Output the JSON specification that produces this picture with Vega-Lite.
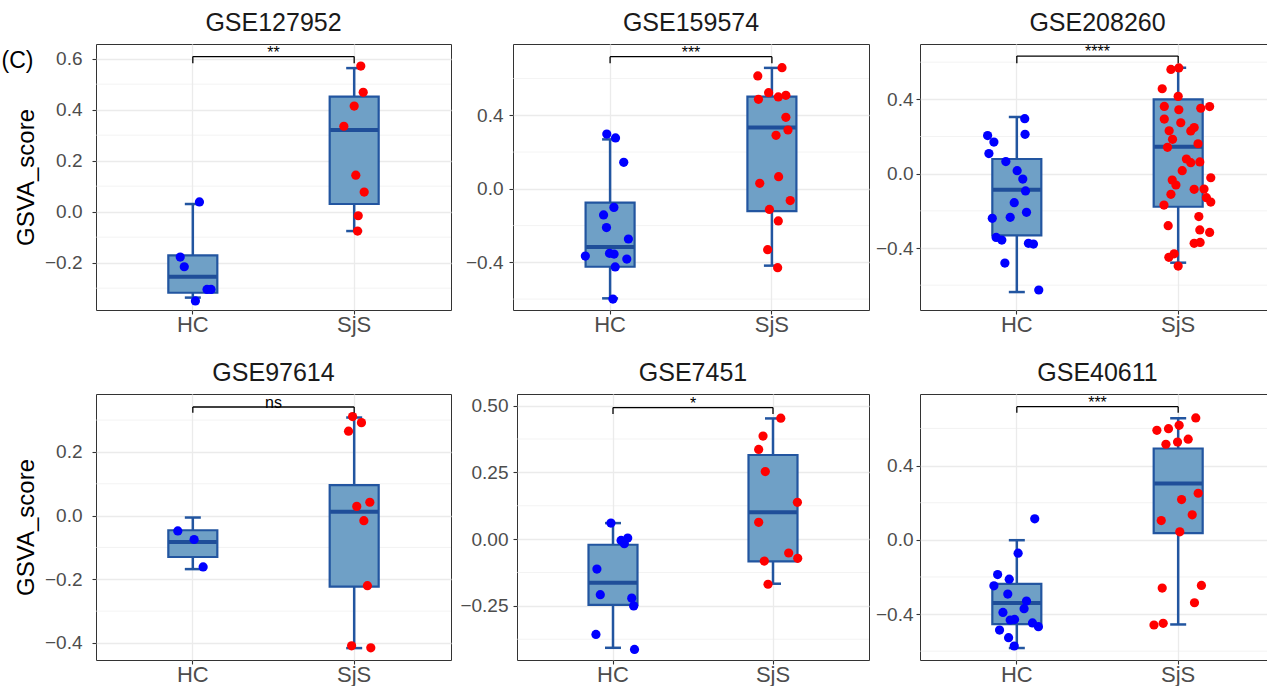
{
"$schema": "https://vega.github.io/schema/vega-lite/v6.json",
"background": "white",
"padding": {"left": 1, "top": 10, "right": 0, "bottom": 0},
"title": {"text": "(C)", "anchor": "start", "frame": "bounds", "fontSize": 23, "fontWeight": "normal", "color": "#000000", "dx": -12, "dy": 62, "offset": 0},
"config": {
 "font": "Liberation Sans",
 "view": {"stroke": "#333333", "strokeWidth": 1},
 "title": {"fontSize": 25, "fontWeight": "normal", "color": "#1a1a1a", "offset": 8},
 "axis": {"labelFontSize": 19, "labelColor": "#4d4d4d", "tickColor": "#333333", "tickSize": 4, "tickWidth": 1.1, "domain": false, "gridColor": "#ebebeb", "gridWidth": 1.3, "titleFontSize": 24, "titleFontWeight": "normal", "titleColor": "#000000", "labelFlush": false, "labelOverlap": false},
 "axisX": {"labelFontSize": 22, "labelPadding": 0, "labelAngle": 0},
 "axisY": {"labelPadding": 10, "titlePadding": 5},
 "tick": {"opacity": 1},
 "bar": {"opacity": 1}
},
"datasets": {
 "grid": [
  {"panel":"GSE127952","value":-0.3},{"panel":"GSE127952","value":-0.1},{"panel":"GSE127952","value":0.1},{"panel":"GSE127952","value":0.3},{"panel":"GSE127952","value":0.5},
  {"panel":"GSE159574","value":-0.6},{"panel":"GSE159574","value":-0.2},{"panel":"GSE159574","value":0.2},{"panel":"GSE159574","value":0.6},
  {"panel":"GSE208260","value":-0.6},{"panel":"GSE208260","value":-0.2},{"panel":"GSE208260","value":0.2},{"panel":"GSE208260","value":0.6},
  {"panel":"GSE97614","value":-0.3},{"panel":"GSE97614","value":-0.1},{"panel":"GSE97614","value":0.1},{"panel":"GSE97614","value":0.3},
  {"panel":"GSE7451","value":-0.375},{"panel":"GSE7451","value":-0.125},{"panel":"GSE7451","value":0.125},{"panel":"GSE7451","value":0.375},
  {"panel":"GSE40611","value":-0.6},{"panel":"GSE40611","value":-0.2},{"panel":"GSE40611","value":0.2},{"panel":"GSE40611","value":0.6}
 ],
 "box": [
  {"panel":"GSE127952","group":"HC","lower":-0.337,"q1":-0.318,"median":-0.255,"q3":-0.171,"upper":0.030},
  {"panel":"GSE127952","group":"SjS","lower":-0.076,"q1":0.030,"median":0.320,"q3":0.451,"upper":0.563},
  {"panel":"GSE159574","group":"HC","lower":-0.596,"q1":-0.424,"median":-0.317,"q3":-0.075,"upper":0.269},
  {"panel":"GSE159574","group":"SjS","lower":-0.418,"q1":-0.121,"median":0.333,"q3":0.502,"upper":0.658},
  {"panel":"GSE208260","group":"HC","lower":-0.637,"q1":-0.332,"median":-0.086,"q3":0.079,"upper":0.305},
  {"panel":"GSE208260","group":"SjS","lower":-0.479,"q1":-0.178,"median":0.145,"q3":0.400,"upper":0.570},
  {"panel":"GSE97614","group":"HC","lower":-0.168,"q1":-0.130,"median":-0.083,"q3":-0.046,"upper":-0.006},
  {"panel":"GSE97614","group":"SjS","lower":-0.416,"q1":-0.223,"median":0.012,"q3":0.096,"upper":0.308},
  {"panel":"GSE7451","group":"HC","lower":-0.407,"q1":-0.246,"median":-0.163,"q3":-0.021,"upper":0.060},
  {"panel":"GSE7451","group":"SjS","lower":-0.167,"q1":-0.083,"median":0.101,"q3":0.315,"upper":0.452},
  {"panel":"GSE40611","group":"HC","lower":-0.583,"q1":-0.454,"median":-0.341,"q3":-0.237,"upper":-0.002},
  {"panel":"GSE40611","group":"SjS","lower":-0.456,"q1":0.036,"median":0.303,"q3":0.492,"upper":0.655}
 ],
 "br": [
  {"panel":"GSE127952","group":"HC","y":0.608,"tip":0.582,"label":"**"},{"panel":"GSE127952","group":"SjS","y":0.608,"tip":0.582,"label":"**"},
  {"panel":"GSE159574","group":"HC","y":0.719,"tip":0.683,"label":"***"},{"panel":"GSE159574","group":"SjS","y":0.719,"tip":0.683,"label":"***"},
  {"panel":"GSE208260","group":"HC","y":0.633,"tip":0.594,"label":"****"},{"panel":"GSE208260","group":"SjS","y":0.633,"tip":0.594,"label":"****"},
  {"panel":"GSE97614","group":"HC","y":0.341,"tip":0.323,"label":"ns"},{"panel":"GSE97614","group":"SjS","y":0.341,"tip":0.323,"label":"ns"},
  {"panel":"GSE7451","group":"HC","y":0.4925,"tip":0.469,"label":"*"},{"panel":"GSE7451","group":"SjS","y":0.4925,"tip":0.469,"label":"*"},
  {"panel":"GSE40611","group":"HC","y":0.7175,"tip":0.685,"label":"***"},{"panel":"GSE40611","group":"SjS","y":0.7175,"tip":0.685,"label":"***"}
 ],
 "pts": [
  {"panel":"GSE127952","group":"HC","score":0.038,"jitter":0.041},{"panel":"GSE127952","group":"HC","score":-0.178,"jitter":-0.078},{"panel":"GSE127952","group":"HC","score":-0.216,"jitter":-0.053},{"panel":"GSE127952","group":"HC","score":-0.305,"jitter":0.088},{"panel":"GSE127952","group":"HC","score":-0.305,"jitter":0.113},{"panel":"GSE127952","group":"HC","score":-0.350,"jitter":0.016},
  {"panel":"GSE127952","group":"SjS","score":0.571,"jitter":0.041},{"panel":"GSE127952","group":"SjS","score":0.468,"jitter":0.056},{"panel":"GSE127952","group":"SjS","score":0.414,"jitter":0.0},{"panel":"GSE127952","group":"SjS","score":0.335,"jitter":-0.064},{"panel":"GSE127952","group":"SjS","score":0.143,"jitter":0.010},{"panel":"GSE127952","group":"SjS","score":0.077,"jitter":0.062},{"panel":"GSE127952","group":"SjS","score":-0.016,"jitter":0.025},{"panel":"GSE127952","group":"SjS","score":-0.076,"jitter":0.021},

  {"panel":"GSE159574","group":"HC","score":0.298,"jitter":-0.019},{"panel":"GSE159574","group":"HC","score":0.277,"jitter":0.035},{"panel":"GSE159574","group":"HC","score":0.144,"jitter":0.086},{"panel":"GSE159574","group":"HC","score":-0.101,"jitter":0.025},{"panel":"GSE159574","group":"HC","score":-0.142,"jitter":-0.039},{"panel":"GSE159574","group":"HC","score":-0.211,"jitter":-0.021},{"panel":"GSE159574","group":"HC","score":-0.273,"jitter":0.115},{"panel":"GSE159574","group":"HC","score":-0.366,"jitter":-0.152},{"panel":"GSE159574","group":"HC","score":-0.351,"jitter":-0.002},{"panel":"GSE159574","group":"HC","score":-0.355,"jitter":0.026},{"panel":"GSE159574","group":"HC","score":-0.382,"jitter":0.105},{"panel":"GSE159574","group":"HC","score":-0.425,"jitter":0.033},{"panel":"GSE159574","group":"HC","score":-0.600,"jitter":0.019},
  {"panel":"GSE159574","group":"SjS","score":0.659,"jitter":0.064},{"panel":"GSE159574","group":"SjS","score":0.614,"jitter":-0.086},{"panel":"GSE159574","group":"SjS","score":0.523,"jitter":-0.019},{"panel":"GSE159574","group":"SjS","score":0.487,"jitter":-0.082},{"panel":"GSE159574","group":"SjS","score":0.500,"jitter":0.041},{"panel":"GSE159574","group":"SjS","score":0.509,"jitter":0.088},{"panel":"GSE159574","group":"SjS","score":0.389,"jitter":0.088},{"panel":"GSE159574","group":"SjS","score":0.320,"jitter":0.101},{"panel":"GSE159574","group":"SjS","score":0.291,"jitter":0.027},{"panel":"GSE159574","group":"SjS","score":0.066,"jitter":0.043},{"panel":"GSE159574","group":"SjS","score":0.030,"jitter":-0.074},{"panel":"GSE159574","group":"SjS","score":-0.064,"jitter":0.115},{"panel":"GSE159574","group":"SjS","score":-0.112,"jitter":-0.014},{"panel":"GSE159574","group":"SjS","score":-0.175,"jitter":0.041},{"panel":"GSE159574","group":"SjS","score":-0.331,"jitter":-0.025},{"panel":"GSE159574","group":"SjS","score":-0.429,"jitter":0.037},

  {"panel":"GSE208260","group":"HC","score":0.296,"jitter":0.049},{"panel":"GSE208260","group":"HC","score":0.212,"jitter":0.051},{"panel":"GSE208260","group":"HC","score":0.205,"jitter":-0.181},{"panel":"GSE208260","group":"HC","score":0.170,"jitter":-0.142},{"panel":"GSE208260","group":"HC","score":0.108,"jitter":-0.173},{"panel":"GSE208260","group":"HC","score":0.065,"jitter":-0.068},{"panel":"GSE208260","group":"HC","score":0.016,"jitter":0.002},{"panel":"GSE208260","group":"HC","score":-0.029,"jitter":0.037},{"panel":"GSE208260","group":"HC","score":-0.093,"jitter":0.054},{"panel":"GSE208260","group":"HC","score":-0.156,"jitter":-0.016},{"panel":"GSE208260","group":"HC","score":-0.208,"jitter":0.060},{"panel":"GSE208260","group":"HC","score":-0.240,"jitter":-0.152},{"panel":"GSE208260","group":"HC","score":-0.235,"jitter":-0.041},{"panel":"GSE208260","group":"HC","score":-0.343,"jitter":-0.128},{"panel":"GSE208260","group":"HC","score":-0.357,"jitter":-0.093},{"panel":"GSE208260","group":"HC","score":-0.375,"jitter":0.072},{"panel":"GSE208260","group":"HC","score":-0.379,"jitter":0.103},{"panel":"GSE208260","group":"HC","score":-0.481,"jitter":-0.074},{"panel":"GSE208260","group":"HC","score":-0.626,"jitter":0.136},
  {"panel":"GSE208260","group":"SjS","score":0.561,"jitter":-0.045},{"panel":"GSE208260","group":"SjS","score":0.569,"jitter":0.004},{"panel":"GSE208260","group":"SjS","score":0.457,"jitter":-0.099},{"panel":"GSE208260","group":"SjS","score":0.416,"jitter":0.0},{"panel":"GSE208260","group":"SjS","score":0.362,"jitter":-0.086},{"panel":"GSE208260","group":"SjS","score":0.344,"jitter":0.004},{"panel":"GSE208260","group":"SjS","score":0.352,"jitter":0.140},{"panel":"GSE208260","group":"SjS","score":0.361,"jitter":0.195},{"panel":"GSE208260","group":"SjS","score":0.294,"jitter":-0.086},{"panel":"GSE208260","group":"SjS","score":0.274,"jitter":0.016},{"panel":"GSE208260","group":"SjS","score":0.231,"jitter":-0.056},{"panel":"GSE208260","group":"SjS","score":0.248,"jitter":0.099},{"panel":"GSE208260","group":"SjS","score":0.230,"jitter":0.078},{"panel":"GSE208260","group":"SjS","score":0.185,"jitter":-0.035},{"panel":"GSE208260","group":"SjS","score":0.142,"jitter":-0.066},{"panel":"GSE208260","group":"SjS","score":0.161,"jitter":0.123},{"panel":"GSE208260","group":"SjS","score":0.079,"jitter":0.051},{"panel":"GSE208260","group":"SjS","score":0.059,"jitter":0.078},{"panel":"GSE208260","group":"SjS","score":0.063,"jitter":0.134},{"panel":"GSE208260","group":"SjS","score":0.016,"jitter":0.025},{"panel":"GSE208260","group":"SjS","score":-0.022,"jitter":0.202},{"panel":"GSE208260","group":"SjS","score":-0.034,"jitter":-0.037},{"panel":"GSE208260","group":"SjS","score":-0.061,"jitter":-0.014},{"panel":"GSE208260","group":"SjS","score":-0.084,"jitter":0.099},{"panel":"GSE208260","group":"SjS","score":-0.083,"jitter":0.160},{"panel":"GSE208260","group":"SjS","score":-0.111,"jitter":-0.045},{"panel":"GSE208260","group":"SjS","score":-0.129,"jitter":0.175},{"panel":"GSE208260","group":"SjS","score":-0.153,"jitter":0.202},{"panel":"GSE208260","group":"SjS","score":-0.169,"jitter":-0.088},{"panel":"GSE208260","group":"SjS","score":-0.231,"jitter":0.128},{"panel":"GSE208260","group":"SjS","score":-0.280,"jitter":-0.062},{"panel":"GSE208260","group":"SjS","score":-0.303,"jitter":0.134},{"panel":"GSE208260","group":"SjS","score":-0.316,"jitter":0.195},{"panel":"GSE208260","group":"SjS","score":-0.375,"jitter":0.099},{"panel":"GSE208260","group":"SjS","score":-0.370,"jitter":0.136},{"panel":"GSE208260","group":"SjS","score":-0.431,"jitter":-0.025},{"panel":"GSE208260","group":"SjS","score":-0.450,"jitter":-0.058},{"panel":"GSE208260","group":"SjS","score":-0.497,"jitter":0.0},

  {"panel":"GSE97614","group":"HC","score":-0.048,"jitter":-0.093},{"panel":"GSE97614","group":"HC","score":-0.075,"jitter":0.008},{"panel":"GSE97614","group":"HC","score":-0.161,"jitter":0.064},
  {"panel":"GSE97614","group":"SjS","score":0.311,"jitter":-0.010},{"panel":"GSE97614","group":"SjS","score":0.292,"jitter":0.045},{"panel":"GSE97614","group":"SjS","score":0.265,"jitter":-0.035},{"panel":"GSE97614","group":"SjS","score":0.029,"jitter":0.016},{"panel":"GSE97614","group":"SjS","score":0.042,"jitter":0.097},{"panel":"GSE97614","group":"SjS","score":-0.016,"jitter":0.060},{"panel":"GSE97614","group":"SjS","score":-0.220,"jitter":0.082},{"panel":"GSE97614","group":"SjS","score":-0.409,"jitter":-0.016},{"panel":"GSE97614","group":"SjS","score":-0.415,"jitter":0.103},

  {"panel":"GSE7451","group":"HC","score":0.060,"jitter":-0.017},{"panel":"GSE7451","group":"HC","score":-0.005,"jitter":0.046},{"panel":"GSE7451","group":"HC","score":0.004,"jitter":0.087},{"panel":"GSE7451","group":"HC","score":-0.017,"jitter":0.066},{"panel":"GSE7451","group":"HC","score":-0.112,"jitter":-0.104},{"panel":"GSE7451","group":"HC","score":-0.208,"jitter":-0.083},{"panel":"GSE7451","group":"HC","score":-0.221,"jitter":0.112},{"panel":"GSE7451","group":"HC","score":-0.250,"jitter":0.124},{"panel":"GSE7451","group":"HC","score":-0.357,"jitter":-0.110},{"panel":"GSE7451","group":"HC","score":-0.413,"jitter":0.129},
  {"panel":"GSE7451","group":"SjS","score":0.453,"jitter":0.044},{"panel":"GSE7451","group":"SjS","score":0.386,"jitter":-0.066},{"panel":"GSE7451","group":"SjS","score":0.336,"jitter":-0.093},{"panel":"GSE7451","group":"SjS","score":0.253,"jitter":-0.052},{"panel":"GSE7451","group":"SjS","score":0.138,"jitter":0.147},{"panel":"GSE7451","group":"SjS","score":0.063,"jitter":-0.093},{"panel":"GSE7451","group":"SjS","score":-0.052,"jitter":0.093},{"panel":"GSE7451","group":"SjS","score":-0.072,"jitter":0.149},{"panel":"GSE7451","group":"SjS","score":-0.082,"jitter":-0.058},{"panel":"GSE7451","group":"SjS","score":-0.169,"jitter":-0.035},

  {"panel":"GSE40611","group":"HC","score":0.113,"jitter":0.111},{"panel":"GSE40611","group":"HC","score":-0.072,"jitter":0.008},{"panel":"GSE40611","group":"HC","score":-0.187,"jitter":-0.119},{"panel":"GSE40611","group":"HC","score":-0.212,"jitter":-0.047},{"panel":"GSE40611","group":"HC","score":-0.248,"jitter":-0.142},{"panel":"GSE40611","group":"HC","score":-0.292,"jitter":-0.056},{"panel":"GSE40611","group":"HC","score":-0.330,"jitter":0.060},{"panel":"GSE40611","group":"HC","score":-0.371,"jitter":0.045},{"panel":"GSE40611","group":"HC","score":-0.391,"jitter":-0.086},{"panel":"GSE40611","group":"HC","score":-0.432,"jitter":-0.041},{"panel":"GSE40611","group":"HC","score":-0.429,"jitter":-0.014},{"panel":"GSE40611","group":"HC","score":-0.448,"jitter":0.097},{"panel":"GSE40611","group":"HC","score":-0.468,"jitter":0.134},{"panel":"GSE40611","group":"HC","score":-0.486,"jitter":-0.107},{"panel":"GSE40611","group":"HC","score":-0.527,"jitter":-0.051},{"panel":"GSE40611","group":"HC","score":-0.572,"jitter":-0.016},
  {"panel":"GSE40611","group":"SjS","score":0.657,"jitter":0.109},{"panel":"GSE40611","group":"SjS","score":0.617,"jitter":0.006},{"panel":"GSE40611","group":"SjS","score":0.599,"jitter":-0.060},{"panel":"GSE40611","group":"SjS","score":0.590,"jitter":-0.132},{"panel":"GSE40611","group":"SjS","score":0.542,"jitter":0.062},{"panel":"GSE40611","group":"SjS","score":0.515,"jitter":-0.076},{"panel":"GSE40611","group":"SjS","score":0.527,"jitter":-0.004},{"panel":"GSE40611","group":"SjS","score":0.251,"jitter":0.124},{"panel":"GSE40611","group":"SjS","score":0.217,"jitter":0.021},{"panel":"GSE40611","group":"SjS","score":0.135,"jitter":0.087},{"panel":"GSE40611","group":"SjS","score":0.104,"jitter":-0.105},{"panel":"GSE40611","group":"SjS","score":0.043,"jitter":0.010},{"panel":"GSE40611","group":"SjS","score":-0.260,"jitter":-0.099},{"panel":"GSE40611","group":"SjS","score":-0.246,"jitter":0.144},{"panel":"GSE40611","group":"SjS","score":-0.339,"jitter":0.101},{"panel":"GSE40611","group":"SjS","score":-0.450,"jitter":-0.093},{"panel":"GSE40611","group":"SjS","score":-0.459,"jitter":-0.150}
 ]
},
"spacing": 24,
"vconcat": [
{"spacing": 0, "hconcat": [
 {"title": "GSE127952", "width": 355, "height": 266, "layer": [
  {"data": {"name": "grid"}, "transform": [{"filter": {"field": "panel", "equal": "GSE127952"}}], "mark": {"type": "rule", "color": "#ebebeb", "strokeWidth": 0.6},
   "encoding": {"y": {"field": "value", "type": "quantitative", "scale": {"domain": [-0.3856, 0.6575]}, "title": "GSVA_score", "axis": {"values": [-0.2, 0, 0.2, 0.4, 0.6], "format": ".1f", "grid": true, "title": "GSVA_score", "labelPadding": 10, "minExtent": 53, "maxExtent": 53}}}},
  {"data": {"name": "box"}, "transform": [{"filter": {"field": "panel", "equal": "GSE127952"}}], "mark": {"type": "rule", "color": "#2255a0", "strokeWidth": 2.5},
   "encoding": {"x": {"field": "group", "type": "nominal", "scale": {"domain": ["HC", "SjS"], "paddingInner": 0, "paddingOuter": 0.1}, "axis": {"title": null, "grid": true, "bandPosition": 0.5}},
    "y": {"field": "lower", "type": "quantitative", "scale": {"domain": [-0.3856, 0.6575]}, "title": "GSVA_score"}, "y2": {"field": "upper"}}},
  {"data": {"name": "box"}, "transform": [{"filter": {"field": "panel", "equal": "GSE127952"}}], "mark": {"type": "tick", "color": "#2255a0", "thickness": 2.5, "size": 16, "orient": "horizontal"},
   "encoding": {"x": {"field": "group", "type": "nominal", "title": null}, "y": {"field": "lower", "type": "quantitative", "scale": {"domain": [-0.3856, 0.6575]}, "title": "GSVA_score"}}},
  {"data": {"name": "box"}, "transform": [{"filter": {"field": "panel", "equal": "GSE127952"}}], "mark": {"type": "tick", "color": "#2255a0", "thickness": 2.5, "size": 16, "orient": "horizontal"},
   "encoding": {"x": {"field": "group", "type": "nominal", "title": null}, "y": {"field": "upper", "type": "quantitative", "scale": {"domain": [-0.3856, 0.6575]}, "title": "GSVA_score"}}},
  {"data": {"name": "box"}, "transform": [{"filter": {"field": "panel", "equal": "GSE127952"}}], "mark": {"type": "bar", "fill": "#6fa0c6", "stroke": "#2255a0", "strokeWidth": 2.2, "size": 49},
   "encoding": {"x": {"field": "group", "type": "nominal", "title": null}, "y": {"field": "q1", "type": "quantitative", "scale": {"domain": [-0.3856, 0.6575]}, "title": "GSVA_score"}, "y2": {"field": "q3"}}},
  {"data": {"name": "box"}, "transform": [{"filter": {"field": "panel", "equal": "GSE127952"}}], "mark": {"type": "tick", "color": "#1f4e99", "thickness": 4, "size": 48, "orient": "horizontal"},
   "encoding": {"x": {"field": "group", "type": "nominal", "title": null}, "y": {"field": "median", "type": "quantitative", "scale": {"domain": [-0.3856, 0.6575]}, "title": "GSVA_score"}}},
  {"data": {"name": "pts"}, "transform": [{"filter": {"field": "panel", "equal": "GSE127952"}}], "mark": {"type": "circle", "size": 85, "opacity": 1},
   "encoding": {"x": {"field": "group", "type": "nominal", "title": null}, "xOffset": {"field": "jitter", "type": "quantitative", "scale": {"domain": [-0.5, 0.5]}}, "y": {"field": "score", "type": "quantitative", "scale": {"domain": [-0.3856, 0.6575]}, "title": "GSVA_score"},
    "color": {"field": "group", "type": "nominal", "scale": {"domain": ["HC", "SjS"], "range": ["#0000ff", "#ff0000"]}, "legend": null}}},
  {"data": {"name": "br"}, "transform": [{"filter": {"field": "panel", "equal": "GSE127952"}}, {"filter": {"field": "group", "equal": "HC"}}], "mark": {"type": "rule", "color": "#000000", "strokeWidth": 1.3},
   "encoding": {"x": {"datum": "HC"}, "x2": {"datum": "SjS"}, "y": {"field": "y", "type": "quantitative", "scale": {"domain": [-0.3856, 0.6575]}, "title": "GSVA_score"}}},
  {"data": {"name": "br"}, "transform": [{"filter": {"field": "panel", "equal": "GSE127952"}}], "mark": {"type": "rule", "color": "#000000", "strokeWidth": 1.3},
   "encoding": {"x": {"field": "group", "type": "nominal", "title": null}, "y": {"field": "tip", "type": "quantitative", "scale": {"domain": [-0.3856, 0.6575]}, "title": "GSVA_score"}, "y2": {"field": "y"}}},
  {"data": {"name": "br"}, "transform": [{"filter": {"field": "panel", "equal": "GSE127952"}}, {"filter": {"field": "group", "equal": "HC"}}], "mark": {"type": "text", "fontSize": 16, "baseline": "alphabetic", "dy": 1, "color": "#000000"},
   "encoding": {"y": {"field": "y", "type": "quantitative", "scale": {"domain": [-0.3856, 0.6575]}, "title": "GSVA_score"}, "text": {"field": "label"}}}
 ]},
 {"title": "GSE159574", "width": 356, "height": 266, "layer": [
  {"data": {"name": "grid"}, "transform": [{"filter": {"field": "panel", "equal": "GSE159574"}}], "mark": {"type": "rule", "color": "#ebebeb", "strokeWidth": 0.6},
   "encoding": {"y": {"field": "value", "type": "quantitative", "scale": {"domain": [-0.6594, 0.788]}, "axis": {"values": [-0.4, 0, 0.4], "format": ".1f", "grid": true, "title": null, "labelPadding": 6, "minExtent": 60, "maxExtent": 60}}}},
  {"data": {"name": "box"}, "transform": [{"filter": {"field": "panel", "equal": "GSE159574"}}], "mark": {"type": "rule", "color": "#2255a0", "strokeWidth": 2.5},
   "encoding": {"x": {"field": "group", "type": "nominal", "scale": {"domain": ["HC", "SjS"], "paddingInner": 0, "paddingOuter": 0.1}, "axis": {"title": null, "grid": true, "bandPosition": 0.5}},
    "y": {"field": "lower", "type": "quantitative", "scale": {"domain": [-0.6594, 0.788]}, "title": null}, "y2": {"field": "upper"}}},
  {"data": {"name": "box"}, "transform": [{"filter": {"field": "panel", "equal": "GSE159574"}}], "mark": {"type": "tick", "color": "#2255a0", "thickness": 2.5, "size": 16, "orient": "horizontal"},
   "encoding": {"x": {"field": "group", "type": "nominal", "title": null}, "y": {"field": "lower", "type": "quantitative", "scale": {"domain": [-0.6594, 0.788]}, "title": null}}},
  {"data": {"name": "box"}, "transform": [{"filter": {"field": "panel", "equal": "GSE159574"}}], "mark": {"type": "tick", "color": "#2255a0", "thickness": 2.5, "size": 16, "orient": "horizontal"},
   "encoding": {"x": {"field": "group", "type": "nominal", "title": null}, "y": {"field": "upper", "type": "quantitative", "scale": {"domain": [-0.6594, 0.788]}, "title": null}}},
  {"data": {"name": "box"}, "transform": [{"filter": {"field": "panel", "equal": "GSE159574"}}], "mark": {"type": "bar", "fill": "#6fa0c6", "stroke": "#2255a0", "strokeWidth": 2.2, "size": 49},
   "encoding": {"x": {"field": "group", "type": "nominal", "title": null}, "y": {"field": "q1", "type": "quantitative", "scale": {"domain": [-0.6594, 0.788]}, "title": null}, "y2": {"field": "q3"}}},
  {"data": {"name": "box"}, "transform": [{"filter": {"field": "panel", "equal": "GSE159574"}}], "mark": {"type": "tick", "color": "#1f4e99", "thickness": 4, "size": 48, "orient": "horizontal"},
   "encoding": {"x": {"field": "group", "type": "nominal", "title": null}, "y": {"field": "median", "type": "quantitative", "scale": {"domain": [-0.6594, 0.788]}, "title": null}}},
  {"data": {"name": "pts"}, "transform": [{"filter": {"field": "panel", "equal": "GSE159574"}}], "mark": {"type": "circle", "size": 85, "opacity": 1},
   "encoding": {"x": {"field": "group", "type": "nominal", "title": null}, "xOffset": {"field": "jitter", "type": "quantitative", "scale": {"domain": [-0.5, 0.5]}}, "y": {"field": "score", "type": "quantitative", "scale": {"domain": [-0.6594, 0.788]}, "title": null},
    "color": {"field": "group", "type": "nominal", "scale": {"domain": ["HC", "SjS"], "range": ["#0000ff", "#ff0000"]}, "legend": null}}},
  {"data": {"name": "br"}, "transform": [{"filter": {"field": "panel", "equal": "GSE159574"}}, {"filter": {"field": "group", "equal": "HC"}}], "mark": {"type": "rule", "color": "#000000", "strokeWidth": 1.3},
   "encoding": {"x": {"datum": "HC"}, "x2": {"datum": "SjS"}, "y": {"field": "y", "type": "quantitative", "scale": {"domain": [-0.6594, 0.788]}, "title": null}}},
  {"data": {"name": "br"}, "transform": [{"filter": {"field": "panel", "equal": "GSE159574"}}], "mark": {"type": "rule", "color": "#000000", "strokeWidth": 1.3},
   "encoding": {"x": {"field": "group", "type": "nominal", "title": null}, "y": {"field": "tip", "type": "quantitative", "scale": {"domain": [-0.6594, 0.788]}, "title": null}, "y2": {"field": "y"}}},
  {"data": {"name": "br"}, "transform": [{"filter": {"field": "panel", "equal": "GSE159574"}}, {"filter": {"field": "group", "equal": "HC"}}], "mark": {"type": "text", "fontSize": 16, "baseline": "alphabetic", "dy": 1, "color": "#000000"},
   "encoding": {"y": {"field": "y", "type": "quantitative", "scale": {"domain": [-0.6594, 0.788]}, "title": null}, "text": {"field": "label"}}}
 ]},
 {"title": "GSE208260", "width": 355, "height": 266, "layer": [
  {"data": {"name": "grid"}, "transform": [{"filter": {"field": "panel", "equal": "GSE208260"}}], "mark": {"type": "rule", "color": "#ebebeb", "strokeWidth": 0.6},
   "encoding": {"y": {"field": "value", "type": "quantitative", "scale": {"domain": [-0.7336, 0.6978]}, "axis": {"values": [-0.4, 0, 0.4], "format": ".1f", "grid": true, "title": null, "labelPadding": 3, "minExtent": 49, "maxExtent": 49}}}},
  {"data": {"name": "box"}, "transform": [{"filter": {"field": "panel", "equal": "GSE208260"}}], "mark": {"type": "rule", "color": "#2255a0", "strokeWidth": 2.5},
   "encoding": {"x": {"field": "group", "type": "nominal", "scale": {"domain": ["HC", "SjS"], "paddingInner": 0, "paddingOuter": 0.1}, "axis": {"title": null, "grid": true, "bandPosition": 0.5}},
    "y": {"field": "lower", "type": "quantitative", "scale": {"domain": [-0.7336, 0.6978]}, "title": null}, "y2": {"field": "upper"}}},
  {"data": {"name": "box"}, "transform": [{"filter": {"field": "panel", "equal": "GSE208260"}}], "mark": {"type": "tick", "color": "#2255a0", "thickness": 2.5, "size": 16, "orient": "horizontal"},
   "encoding": {"x": {"field": "group", "type": "nominal", "title": null}, "y": {"field": "lower", "type": "quantitative", "scale": {"domain": [-0.7336, 0.6978]}, "title": null}}},
  {"data": {"name": "box"}, "transform": [{"filter": {"field": "panel", "equal": "GSE208260"}}], "mark": {"type": "tick", "color": "#2255a0", "thickness": 2.5, "size": 16, "orient": "horizontal"},
   "encoding": {"x": {"field": "group", "type": "nominal", "title": null}, "y": {"field": "upper", "type": "quantitative", "scale": {"domain": [-0.7336, 0.6978]}, "title": null}}},
  {"data": {"name": "box"}, "transform": [{"filter": {"field": "panel", "equal": "GSE208260"}}], "mark": {"type": "bar", "fill": "#6fa0c6", "stroke": "#2255a0", "strokeWidth": 2.2, "size": 49},
   "encoding": {"x": {"field": "group", "type": "nominal", "title": null}, "y": {"field": "q1", "type": "quantitative", "scale": {"domain": [-0.7336, 0.6978]}, "title": null}, "y2": {"field": "q3"}}},
  {"data": {"name": "box"}, "transform": [{"filter": {"field": "panel", "equal": "GSE208260"}}], "mark": {"type": "tick", "color": "#1f4e99", "thickness": 4, "size": 48, "orient": "horizontal"},
   "encoding": {"x": {"field": "group", "type": "nominal", "title": null}, "y": {"field": "median", "type": "quantitative", "scale": {"domain": [-0.7336, 0.6978]}, "title": null}}},
  {"data": {"name": "pts"}, "transform": [{"filter": {"field": "panel", "equal": "GSE208260"}}], "mark": {"type": "circle", "size": 85, "opacity": 1},
   "encoding": {"x": {"field": "group", "type": "nominal", "title": null}, "xOffset": {"field": "jitter", "type": "quantitative", "scale": {"domain": [-0.5, 0.5]}}, "y": {"field": "score", "type": "quantitative", "scale": {"domain": [-0.7336, 0.6978]}, "title": null},
    "color": {"field": "group", "type": "nominal", "scale": {"domain": ["HC", "SjS"], "range": ["#0000ff", "#ff0000"]}, "legend": null}}},
  {"data": {"name": "br"}, "transform": [{"filter": {"field": "panel", "equal": "GSE208260"}}, {"filter": {"field": "group", "equal": "HC"}}], "mark": {"type": "rule", "color": "#000000", "strokeWidth": 1.3},
   "encoding": {"x": {"datum": "HC"}, "x2": {"datum": "SjS"}, "y": {"field": "y", "type": "quantitative", "scale": {"domain": [-0.7336, 0.6978]}, "title": null}}},
  {"data": {"name": "br"}, "transform": [{"filter": {"field": "panel", "equal": "GSE208260"}}], "mark": {"type": "rule", "color": "#000000", "strokeWidth": 1.3},
   "encoding": {"x": {"field": "group", "type": "nominal", "title": null}, "y": {"field": "tip", "type": "quantitative", "scale": {"domain": [-0.7336, 0.6978]}, "title": null}, "y2": {"field": "y"}}},
  {"data": {"name": "br"}, "transform": [{"filter": {"field": "panel", "equal": "GSE208260"}}, {"filter": {"field": "group", "equal": "HC"}}], "mark": {"type": "text", "fontSize": 16, "baseline": "alphabetic", "dy": 1, "color": "#000000"},
   "encoding": {"y": {"field": "y", "type": "quantitative", "scale": {"domain": [-0.7336, 0.6978]}, "title": null}, "text": {"field": "label"}}}
 ]}
]},
{"spacing": 0, "hconcat": [
 {"title": "GSE97614", "width": 355, "height": 266, "layer": [
  {"data": {"name": "grid"}, "transform": [{"filter": {"field": "panel", "equal": "GSE97614"}}], "mark": {"type": "rule", "color": "#ebebeb", "strokeWidth": 0.6},
   "encoding": {"y": {"field": "value", "type": "quantitative", "scale": {"domain": [-0.4534, 0.3819]}, "title": "GSVA_score", "axis": {"values": [-0.4, -0.2, 0, 0.2], "format": ".1f", "grid": true, "title": "GSVA_score", "labelPadding": 10, "minExtent": 53, "maxExtent": 53}}}},
  {"data": {"name": "box"}, "transform": [{"filter": {"field": "panel", "equal": "GSE97614"}}], "mark": {"type": "rule", "color": "#2255a0", "strokeWidth": 2.5},
   "encoding": {"x": {"field": "group", "type": "nominal", "scale": {"domain": ["HC", "SjS"], "paddingInner": 0, "paddingOuter": 0.1}, "axis": {"title": null, "grid": true, "bandPosition": 0.5}},
    "y": {"field": "lower", "type": "quantitative", "scale": {"domain": [-0.4534, 0.3819]}, "title": "GSVA_score"}, "y2": {"field": "upper"}}},
  {"data": {"name": "box"}, "transform": [{"filter": {"field": "panel", "equal": "GSE97614"}}], "mark": {"type": "tick", "color": "#2255a0", "thickness": 2.5, "size": 16, "orient": "horizontal"},
   "encoding": {"x": {"field": "group", "type": "nominal", "title": null}, "y": {"field": "lower", "type": "quantitative", "scale": {"domain": [-0.4534, 0.3819]}, "title": "GSVA_score"}}},
  {"data": {"name": "box"}, "transform": [{"filter": {"field": "panel", "equal": "GSE97614"}}], "mark": {"type": "tick", "color": "#2255a0", "thickness": 2.5, "size": 16, "orient": "horizontal"},
   "encoding": {"x": {"field": "group", "type": "nominal", "title": null}, "y": {"field": "upper", "type": "quantitative", "scale": {"domain": [-0.4534, 0.3819]}, "title": "GSVA_score"}}},
  {"data": {"name": "box"}, "transform": [{"filter": {"field": "panel", "equal": "GSE97614"}}], "mark": {"type": "bar", "fill": "#6fa0c6", "stroke": "#2255a0", "strokeWidth": 2.2, "size": 49},
   "encoding": {"x": {"field": "group", "type": "nominal", "title": null}, "y": {"field": "q1", "type": "quantitative", "scale": {"domain": [-0.4534, 0.3819]}, "title": "GSVA_score"}, "y2": {"field": "q3"}}},
  {"data": {"name": "box"}, "transform": [{"filter": {"field": "panel", "equal": "GSE97614"}}], "mark": {"type": "tick", "color": "#1f4e99", "thickness": 4, "size": 48, "orient": "horizontal"},
   "encoding": {"x": {"field": "group", "type": "nominal", "title": null}, "y": {"field": "median", "type": "quantitative", "scale": {"domain": [-0.4534, 0.3819]}, "title": "GSVA_score"}}},
  {"data": {"name": "pts"}, "transform": [{"filter": {"field": "panel", "equal": "GSE97614"}}], "mark": {"type": "circle", "size": 85, "opacity": 1},
   "encoding": {"x": {"field": "group", "type": "nominal", "title": null}, "xOffset": {"field": "jitter", "type": "quantitative", "scale": {"domain": [-0.5, 0.5]}}, "y": {"field": "score", "type": "quantitative", "scale": {"domain": [-0.4534, 0.3819]}, "title": "GSVA_score"},
    "color": {"field": "group", "type": "nominal", "scale": {"domain": ["HC", "SjS"], "range": ["#0000ff", "#ff0000"]}, "legend": null}}},
  {"data": {"name": "br"}, "transform": [{"filter": {"field": "panel", "equal": "GSE97614"}}, {"filter": {"field": "group", "equal": "HC"}}], "mark": {"type": "rule", "color": "#000000", "strokeWidth": 1.3},
   "encoding": {"x": {"datum": "HC"}, "x2": {"datum": "SjS"}, "y": {"field": "y", "type": "quantitative", "scale": {"domain": [-0.4534, 0.3819]}, "title": "GSVA_score"}}},
  {"data": {"name": "br"}, "transform": [{"filter": {"field": "panel", "equal": "GSE97614"}}], "mark": {"type": "rule", "color": "#000000", "strokeWidth": 1.3},
   "encoding": {"x": {"field": "group", "type": "nominal", "title": null}, "y": {"field": "tip", "type": "quantitative", "scale": {"domain": [-0.4534, 0.3819]}, "title": "GSVA_score"}, "y2": {"field": "y"}}},
  {"data": {"name": "br"}, "transform": [{"filter": {"field": "panel", "equal": "GSE97614"}}, {"filter": {"field": "group", "equal": "HC"}}], "mark": {"type": "text", "fontSize": 16, "baseline": "alphabetic", "dy": 1, "color": "#000000"},
   "encoding": {"y": {"field": "y", "type": "quantitative", "scale": {"domain": [-0.4534, 0.3819]}, "title": "GSVA_score"}, "text": {"field": "label"}}}
 ]},
 {"title": "GSE7451", "width": 352, "height": 266, "layer": [
  {"data": {"name": "grid"}, "transform": [{"filter": {"field": "panel", "equal": "GSE7451"}}], "mark": {"type": "rule", "color": "#ebebeb", "strokeWidth": 0.6},
   "encoding": {"y": {"field": "value", "type": "quantitative", "scale": {"domain": [-0.4527, 0.5435]}, "axis": {"values": [-0.25, 0, 0.25, 0.5], "format": ".2f", "grid": true, "title": null, "labelPadding": 5, "minExtent": 64, "maxExtent": 64}}}},
  {"data": {"name": "box"}, "transform": [{"filter": {"field": "panel", "equal": "GSE7451"}}], "mark": {"type": "rule", "color": "#2255a0", "strokeWidth": 2.5},
   "encoding": {"x": {"field": "group", "type": "nominal", "scale": {"domain": ["HC", "SjS"], "paddingInner": 0, "paddingOuter": 0.1}, "axis": {"title": null, "grid": true, "bandPosition": 0.5}},
    "y": {"field": "lower", "type": "quantitative", "scale": {"domain": [-0.4527, 0.5435]}, "title": null}, "y2": {"field": "upper"}}},
  {"data": {"name": "box"}, "transform": [{"filter": {"field": "panel", "equal": "GSE7451"}}], "mark": {"type": "tick", "color": "#2255a0", "thickness": 2.5, "size": 16, "orient": "horizontal"},
   "encoding": {"x": {"field": "group", "type": "nominal", "title": null}, "y": {"field": "lower", "type": "quantitative", "scale": {"domain": [-0.4527, 0.5435]}, "title": null}}},
  {"data": {"name": "box"}, "transform": [{"filter": {"field": "panel", "equal": "GSE7451"}}], "mark": {"type": "tick", "color": "#2255a0", "thickness": 2.5, "size": 16, "orient": "horizontal"},
   "encoding": {"x": {"field": "group", "type": "nominal", "title": null}, "y": {"field": "upper", "type": "quantitative", "scale": {"domain": [-0.4527, 0.5435]}, "title": null}}},
  {"data": {"name": "box"}, "transform": [{"filter": {"field": "panel", "equal": "GSE7451"}}], "mark": {"type": "bar", "fill": "#6fa0c6", "stroke": "#2255a0", "strokeWidth": 2.2, "size": 49},
   "encoding": {"x": {"field": "group", "type": "nominal", "title": null}, "y": {"field": "q1", "type": "quantitative", "scale": {"domain": [-0.4527, 0.5435]}, "title": null}, "y2": {"field": "q3"}}},
  {"data": {"name": "box"}, "transform": [{"filter": {"field": "panel", "equal": "GSE7451"}}], "mark": {"type": "tick", "color": "#1f4e99", "thickness": 4, "size": 48, "orient": "horizontal"},
   "encoding": {"x": {"field": "group", "type": "nominal", "title": null}, "y": {"field": "median", "type": "quantitative", "scale": {"domain": [-0.4527, 0.5435]}, "title": null}}},
  {"data": {"name": "pts"}, "transform": [{"filter": {"field": "panel", "equal": "GSE7451"}}], "mark": {"type": "circle", "size": 85, "opacity": 1},
   "encoding": {"x": {"field": "group", "type": "nominal", "title": null}, "xOffset": {"field": "jitter", "type": "quantitative", "scale": {"domain": [-0.5, 0.5]}}, "y": {"field": "score", "type": "quantitative", "scale": {"domain": [-0.4527, 0.5435]}, "title": null},
    "color": {"field": "group", "type": "nominal", "scale": {"domain": ["HC", "SjS"], "range": ["#0000ff", "#ff0000"]}, "legend": null}}},
  {"data": {"name": "br"}, "transform": [{"filter": {"field": "panel", "equal": "GSE7451"}}, {"filter": {"field": "group", "equal": "HC"}}], "mark": {"type": "rule", "color": "#000000", "strokeWidth": 1.3},
   "encoding": {"x": {"datum": "HC"}, "x2": {"datum": "SjS"}, "y": {"field": "y", "type": "quantitative", "scale": {"domain": [-0.4527, 0.5435]}, "title": null}}},
  {"data": {"name": "br"}, "transform": [{"filter": {"field": "panel", "equal": "GSE7451"}}], "mark": {"type": "rule", "color": "#000000", "strokeWidth": 1.3},
   "encoding": {"x": {"field": "group", "type": "nominal", "title": null}, "y": {"field": "tip", "type": "quantitative", "scale": {"domain": [-0.4527, 0.5435]}, "title": null}, "y2": {"field": "y"}}},
  {"data": {"name": "br"}, "transform": [{"filter": {"field": "panel", "equal": "GSE7451"}}, {"filter": {"field": "group", "equal": "HC"}}], "mark": {"type": "text", "fontSize": 16, "baseline": "alphabetic", "dy": 1, "color": "#000000"},
   "encoding": {"y": {"field": "y", "type": "quantitative", "scale": {"domain": [-0.4527, 0.5435]}, "title": null}, "text": {"field": "label"}}}
 ]},
 {"title": "GSE40611", "width": 355, "height": 266, "layer": [
  {"data": {"name": "grid"}, "transform": [{"filter": {"field": "panel", "equal": "GSE40611"}}], "mark": {"type": "rule", "color": "#ebebeb", "strokeWidth": 0.6},
   "encoding": {"y": {"field": "value", "type": "quantitative", "scale": {"domain": [-0.6475, 0.7857]}, "axis": {"values": [-0.4, 0, 0.4], "format": ".1f", "grid": true, "title": null, "labelPadding": 3, "minExtent": 49, "maxExtent": 49}}}},
  {"data": {"name": "box"}, "transform": [{"filter": {"field": "panel", "equal": "GSE40611"}}], "mark": {"type": "rule", "color": "#2255a0", "strokeWidth": 2.5},
   "encoding": {"x": {"field": "group", "type": "nominal", "scale": {"domain": ["HC", "SjS"], "paddingInner": 0, "paddingOuter": 0.1}, "axis": {"title": null, "grid": true, "bandPosition": 0.5}},
    "y": {"field": "lower", "type": "quantitative", "scale": {"domain": [-0.6475, 0.7857]}, "title": null}, "y2": {"field": "upper"}}},
  {"data": {"name": "box"}, "transform": [{"filter": {"field": "panel", "equal": "GSE40611"}}], "mark": {"type": "tick", "color": "#2255a0", "thickness": 2.5, "size": 16, "orient": "horizontal"},
   "encoding": {"x": {"field": "group", "type": "nominal", "title": null}, "y": {"field": "lower", "type": "quantitative", "scale": {"domain": [-0.6475, 0.7857]}, "title": null}}},
  {"data": {"name": "box"}, "transform": [{"filter": {"field": "panel", "equal": "GSE40611"}}], "mark": {"type": "tick", "color": "#2255a0", "thickness": 2.5, "size": 16, "orient": "horizontal"},
   "encoding": {"x": {"field": "group", "type": "nominal", "title": null}, "y": {"field": "upper", "type": "quantitative", "scale": {"domain": [-0.6475, 0.7857]}, "title": null}}},
  {"data": {"name": "box"}, "transform": [{"filter": {"field": "panel", "equal": "GSE40611"}}], "mark": {"type": "bar", "fill": "#6fa0c6", "stroke": "#2255a0", "strokeWidth": 2.2, "size": 49},
   "encoding": {"x": {"field": "group", "type": "nominal", "title": null}, "y": {"field": "q1", "type": "quantitative", "scale": {"domain": [-0.6475, 0.7857]}, "title": null}, "y2": {"field": "q3"}}},
  {"data": {"name": "box"}, "transform": [{"filter": {"field": "panel", "equal": "GSE40611"}}], "mark": {"type": "tick", "color": "#1f4e99", "thickness": 4, "size": 48, "orient": "horizontal"},
   "encoding": {"x": {"field": "group", "type": "nominal", "title": null}, "y": {"field": "median", "type": "quantitative", "scale": {"domain": [-0.6475, 0.7857]}, "title": null}}},
  {"data": {"name": "pts"}, "transform": [{"filter": {"field": "panel", "equal": "GSE40611"}}], "mark": {"type": "circle", "size": 85, "opacity": 1},
   "encoding": {"x": {"field": "group", "type": "nominal", "title": null}, "xOffset": {"field": "jitter", "type": "quantitative", "scale": {"domain": [-0.5, 0.5]}}, "y": {"field": "score", "type": "quantitative", "scale": {"domain": [-0.6475, 0.7857]}, "title": null},
    "color": {"field": "group", "type": "nominal", "scale": {"domain": ["HC", "SjS"], "range": ["#0000ff", "#ff0000"]}, "legend": null}}},
  {"data": {"name": "br"}, "transform": [{"filter": {"field": "panel", "equal": "GSE40611"}}, {"filter": {"field": "group", "equal": "HC"}}], "mark": {"type": "rule", "color": "#000000", "strokeWidth": 1.3},
   "encoding": {"x": {"datum": "HC"}, "x2": {"datum": "SjS"}, "y": {"field": "y", "type": "quantitative", "scale": {"domain": [-0.6475, 0.7857]}, "title": null}}},
  {"data": {"name": "br"}, "transform": [{"filter": {"field": "panel", "equal": "GSE40611"}}], "mark": {"type": "rule", "color": "#000000", "strokeWidth": 1.3},
   "encoding": {"x": {"field": "group", "type": "nominal", "title": null}, "y": {"field": "tip", "type": "quantitative", "scale": {"domain": [-0.6475, 0.7857]}, "title": null}, "y2": {"field": "y"}}},
  {"data": {"name": "br"}, "transform": [{"filter": {"field": "panel", "equal": "GSE40611"}}, {"filter": {"field": "group", "equal": "HC"}}], "mark": {"type": "text", "fontSize": 16, "baseline": "alphabetic", "dy": 1, "color": "#000000"},
   "encoding": {"y": {"field": "y", "type": "quantitative", "scale": {"domain": [-0.6475, 0.7857]}, "title": null}, "text": {"field": "label"}}}
 ]}
]}
]
}
